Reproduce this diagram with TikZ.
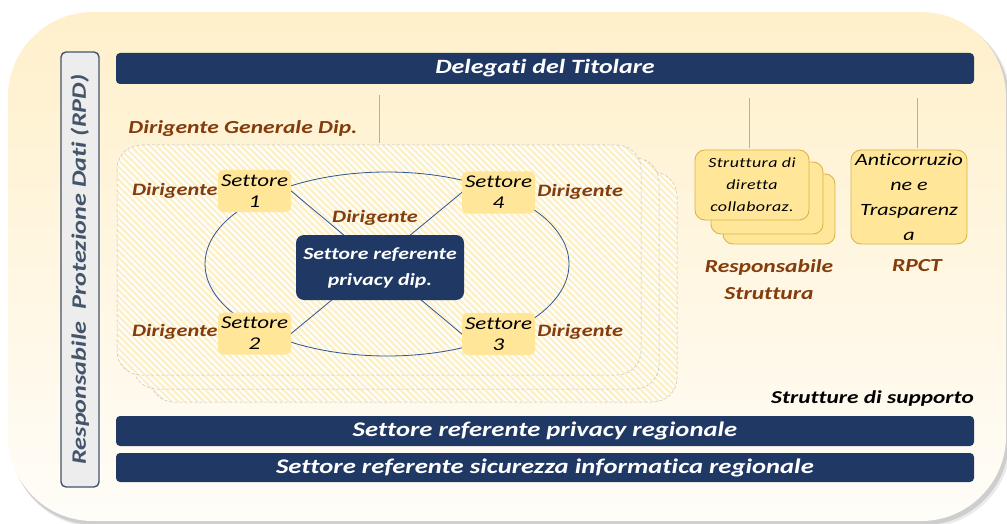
\documentclass[tikz,border=0pt]{standalone}
\usepackage{fontspec}
\setmainfont{Carlito}[FakeStretch=1.28, Ligatures=NoCommon]
\definecolor{navy}{HTML}{203864}
\definecolor{brownt}{HTML}{843C0C}
\definecolor{gold}{HTML}{FFE699}
\definecolor{goldline}{HTML}{D9B548}
\definecolor{lineblue}{HTML}{2F5597}
\definecolor{rpdgrey}{HTML}{44546A}
\definecolor{rpdfill}{HTML}{EDEDED}
\definecolor{bgtop}{HTML}{FFF0CB}
\definecolor{bgbot}{HTML}{FFFDF8}
\definecolor{hatch}{HTML}{FDEFC6}
\definecolor{connline}{HTML}{B0B0B0}
\newcommand\hatchpanel[2]{%
  \fill[white, rounded corners=24pt] #1 rectangle #2;
  \begin{scope}
    \clip[rounded corners=24pt] #1 rectangle #2;
    \foreach \k in {0,...,130} \draw[hatch, line width=2.3pt] ({\k*6.5-165},130) -- ++(290,290);
  \end{scope}
  \draw[black!25, densely dashed, line width=0.5pt, rounded corners=24pt] #1 rectangle #2;
}
\begin{document}
\begin{tikzpicture}[x=1pt,y=-1pt,
  bar/.style={fill=navy, rounded corners=4pt, text=white,
    font=\bfseries\itshape\fontsize{20.8}{22}\selectfont,
    minimum width=858pt, minimum height=30pt, inner sep=0pt},
  sett/.style={fill=gold, rounded corners=5pt, minimum width=73pt, minimum height=42pt,
    inner sep=0pt, align=center, font=\itshape\fontsize{18}{21}\selectfont},
  dir/.style={text=brownt, font=\bfseries\itshape\fontsize{17.4}{19}\selectfont, inner sep=0pt},
  gbox/.style={fill=gold, draw=goldline, line width=0.9pt, rounded corners=10pt, inner sep=0pt, align=center},
  conn/.style={draw=connline, line width=0.8pt},
  ring/.style={draw=lineblue, line width=0.8pt},
  brlabel/.style={text=brownt, font=\bfseries\itshape\fontsize{18.4}{27}\selectfont, inner sep=0pt, align=center},
]
\useasboundingbox (0,0) rectangle (1007,524);
\clip (0,0) rectangle (1007,524);
% background panel with shadow
\fill[black, opacity=0.08, rounded corners=85pt] (11,16) rectangle (1011,527);
\fill[black, opacity=0.12, rounded corners=85pt] (10,15) rectangle (1009,525);
\shade[top color=bgtop, bottom color=bgbot, rounded corners=85pt] (8,12) rectangle (1006,521);

% RPD vertical box
\node[rotate=90, fill=rpdfill, draw=rpdgrey, line width=1.4pt, rounded corners=5pt,
  minimum width=435pt, minimum height=38pt, inner sep=0pt, text=rpdgrey,
  font=\bfseries\itshape\fontsize{20.5}{22}\selectfont]
  (rpd) at (80,269.5) {Responsabile \ Protezione Dati (RPD)};

% top bar
\node[bar, minimum height=31pt, font=\bfseries\itshape\fontsize{20.3}{22}\selectfont] (del) at (545,68.5) {Delegati del Titolare};

% stacked hatched boxes
\hatchpanel{(150,172)}{(677,402)}
\hatchpanel{(133,158)}{(659,389)}
\hatchpanel{(117,145)}{(641,375)}
\node[minimum width=524pt, minimum height=230pt, inner sep=0pt] (gen) at (379,260) {};

\node[brlabel] (dg) at (243,129) {Dirigente Generale Dip.};
\draw[conn, shorten <=11pt, shorten >=2pt] (gen.north |- del.south) -- (gen.north);

% ring and cross
\draw[ring] (387,264) ellipse [x radius=182, y radius=92];

\node[sett] (s1) at (254.5,191) {Settore\\1};
\node[sett] (s4) at (498.5,192.5) {Settore\\4};
\node[sett] (s2) at (254.5,333.5) {Settore\\2};
\node[sett] (s3) at (498.5,334) {Settore\\3};

\draw[ring] (s1.east) -- (s3.west);
\draw[ring] (s4.west) -- (s2.east);

\node[fill=navy, rounded corners=8pt, minimum width=168pt, minimum height=65pt, inner sep=0pt,
  text=white, align=center, font=\bfseries\itshape\fontsize{17}{26}\selectfont]
  (cen) at (380,267.5) {Settore referente\\privacy dip.};

\node[dir, anchor=east] (d1) at ([yshift=0pt]s1.west) {Dirigente};
\node[dir, anchor=west] (d4) at ([xshift=2pt,yshift=1pt]s4.east) {Dirigente};
\node[dir, anchor=east] (d2) at ([yshift=2pt]s2.west) {Dirigente};
\node[dir, anchor=west] (d3) at ([xshift=2pt,yshift=2pt]s3.east) {Dirigente};
\node[dir] (dc) at (375,218) {Dirigente};

% right side structures
\node[gbox, minimum width=112pt, minimum height=70pt] (sd3) at (779,209) {};
\node[gbox, minimum width=112pt, minimum height=72pt] (sd2) at (767,198) {};
\node[gbox, minimum width=114pt, minimum height=70pt,
  font=\itshape\fontsize{14}{22}\selectfont\addfontfeature{LetterSpace=3}] (sd1) at (752,185)
  {Struttura di\\diretta\\collaboraz.};
\node[gbox, minimum width=116pt, minimum height=94pt,
  font=\itshape\fontsize{17.2}{25}\selectfont] (ac) at (909,197)
  {Anticorruzio\\ne e\\Trasparenz\\a};

\coordinate (xa) at (749,0);
\coordinate (xb) at (917,0);
\draw[conn, shorten <=14pt, shorten >=2pt] (del.south -| xa) -- (sd1.north -| xa);
\draw[conn, shorten <=14pt, shorten >=2pt] (del.south -| xb) -- (ac.north -| xb);

\node[brlabel] (rs) at (769,280) {Responsabile\\Struttura};
\node[brlabel] (rpct) at (917,266) {RPCT};

\node[anchor=east, inner sep=0pt, font=\bfseries\itshape\fontsize{18.2}{20}\selectfont] (sup) at (974,399) {Strutture di supporto};

\node[bar] (b1) at (545,431) {Settore referente privacy regionale};
\node[bar, minimum height=29pt] (b2) at (545,467.5) {Settore referente sicurezza informatica regionale};
\end{tikzpicture}
\end{document}
